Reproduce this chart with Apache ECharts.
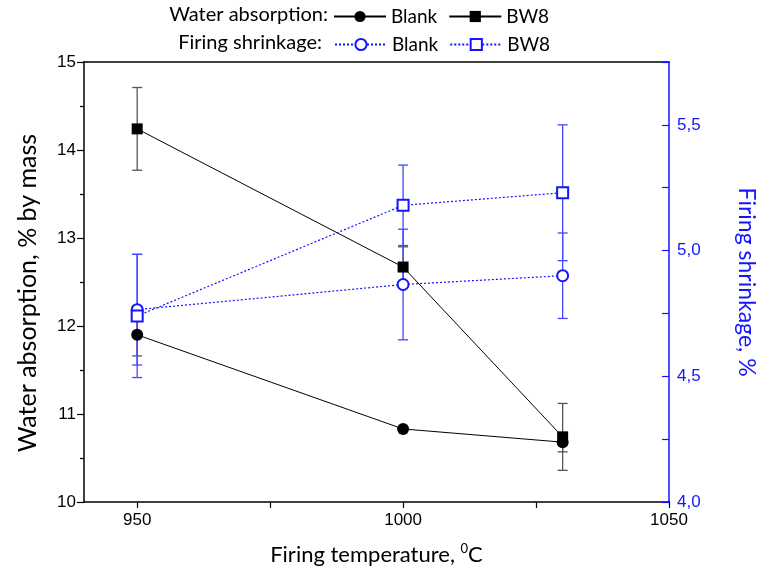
<!DOCTYPE html>
<html>
<head>
<meta charset="utf-8">
<script src="https://cdn.jsdelivr.net/npm/echarts@6/dist/echarts.min.js"></script>
<style>
  html, body { margin: 0; padding: 0; background: #fff; }
  #chart { width: 766px; height: 572px; }
</style>
</head>
<body>
<div id="chart"></div>
<script>
// firing temperatures, deg C
const temps = [950, 1000, 1030];

// water absorption, % by mass (left axis)
const waBlank = [11.90, 10.83, 10.68];
const waBlankErr = [0.24, 0, 0.11];
const waBW8 = [14.24, 12.67, 10.74];
const waBW8Err = [0.47, 0.23, 0.38];

// firing shrinkage, % (right axis)
const fsBlank = [4.765, 4.865, 4.90];
const fsBlankErr = [0.22, 0.22, 0.17];
const fsBW8 = [4.74, 5.18, 5.23];
const fsBW8Err = [0.245, 0.16, 0.27];

const xLabels = [950, 1000, 1050];
const xTicks = [950, 975, 1000, 1025, 1050];
const rightLabels = [4, 4.5, 5, 5.5];

const BLUE = '#1414ff';
const TITLE_FONT = 'Lato';
const TICK_FONT = 'Liberation Sans';

const pts = (vals) => temps.map((t, i) => [t, vals[i]]);
const bars = (vals, errs) => temps.map((t, i) => [t, vals[i] - errs[i], vals[i] + errs[i]]);

const errRender = (color) => (params, api) => {
  const x = api.value(0);
  const hi = api.coord([x, api.value(2)]);
  const lo = api.coord([x, api.value(1)]);
  const hw = 5;
  const style = { stroke: color, lineWidth: 1.3 };
  return {
    type: 'group',
    children: [
      { type: 'line', shape: { x1: hi[0], y1: hi[1], x2: lo[0], y2: lo[1] }, style },
      { type: 'line', shape: { x1: hi[0] - hw, y1: hi[1], x2: hi[0] + hw, y2: hi[1] }, style },
      { type: 'line', shape: { x1: lo[0] - hw, y1: lo[1], x2: lo[0] + hw, y2: lo[1] }, style }
    ]
  };
};

const errSeries = (vals, errs, yIdx, color) => ({
  type: 'custom',
  xAxisIndex: 0,
  yAxisIndex: yIdx,
  z: 1,
  silent: true,
  renderItem: errRender(color),
  encode: { x: 0, y: [1, 2] },
  data: bars(vals, errs)
});

const legendName = (n) => (n.endsWith('blank') ? 'Blank' : 'BW8');

const chart = echarts.init(document.getElementById('chart'));
chart.setOption({
  animation: false,
  backgroundColor: '#fff',
  grid: { left: 84, right: 86, top: 62, bottom: 70 },
  graphic: [
    {
      type: 'text', right: 766 - 328, top: 5,
      style: { text: 'Water absorption:', font: '20px ' + TITLE_FONT, fill: '#000' }
    },
    {
      type: 'text', right: 766 - 322, top: 33,
      style: { text: 'Firing shrinkage:', font: '20px ' + TITLE_FONT, fill: '#000' }
    }
  ],
  legend: [
    {
      left: 333, top: 7, padding: 0,
      data: ['wa_blank', 'wa_bw8'],
      itemWidth: 52, itemHeight: 14, itemGap: 11,
      selectedMode: false,
      formatter: legendName,
      textStyle: { fontFamily: TITLE_FONT, fontSize: 19, color: '#000' }
    },
    {
      left: 334, top: 35, padding: 0,
      data: ['fs_blank', 'fs_bw8'],
      itemWidth: 52, itemHeight: 14, itemGap: 11,
      selectedMode: false,
      formatter: legendName,
      textStyle: { fontFamily: TITLE_FONT, fontSize: 19, color: '#000' }
    }
  ],
  xAxis: [
    {
      type: 'value', position: 'bottom', min: 940, max: 1050,
      axisLine: { lineStyle: { color: '#000', width: 1.5 } },
      axisTick: { customValues: xTicks, length: 6, lineStyle: { color: '#000', width: 1.2 } },
      axisLabel: {
        customValues: xLabels, fontFamily: TICK_FONT, fontSize: 17, color: '#000', margin: 10,
        formatter: (v) => String(v)
      },
      splitLine: { show: false },
      name: 'Firing temperature, {sup|0}C',
      nameLocation: 'middle', nameGap: 40,
      nameTextStyle: {
        fontFamily: TITLE_FONT, fontSize: 22, color: '#000',
        rich: { sup: { fontFamily: TITLE_FONT, fontSize: 13, color: '#000', verticalAlign: 'top', padding: [0, 0, 12, 0] } }
      }
    },
    {
      type: 'value', position: 'top', min: 940, max: 1050,
      axisLine: { lineStyle: { color: '#000', width: 1.5 } },
      axisTick: { show: false }, axisLabel: { show: false }, splitLine: { show: false }
    }
  ],
  yAxis: [
    {
      type: 'value', position: 'left', min: 10, max: 15, interval: 1,
      axisLine: { show: true, lineStyle: { color: '#000', width: 1.5 } },
      axisTick: { show: true, length: 7, lineStyle: { color: '#000', width: 1.2 } },
      minorTick: { show: true, splitNumber: 2, length: 4, lineStyle: { color: '#000', width: 1.2 } },
      axisLabel: { fontFamily: TICK_FONT, fontSize: 17, color: '#000', margin: 8 },
      splitLine: { show: false },
      name: 'Water absorption, % by mass',
      nameLocation: 'middle', nameRotate: 90, nameGap: 44,
      nameTextStyle: { fontFamily: TITLE_FONT, fontSize: 25, color: '#000', padding: [0, 22, 0, 0] }
    },
    {
      type: 'value', position: 'right', min: 4, max: 5.75, interval: 0.25,
      axisLine: { show: true, lineStyle: { color: BLUE, width: 1.5 } },
      axisTick: { show: true, inside: true, length: 7, lineStyle: { color: BLUE, width: 1.2 } },
      axisLabel: {
        customValues: rightLabels,
        fontFamily: TICK_FONT, fontSize: 17, color: BLUE, margin: 8,
        formatter: (v) => v.toFixed(1).replace('.', ',')
      },
      splitLine: { show: false },
      name: 'Firing shrinkage, %',
      nameLocation: 'middle', nameRotate: -90, nameGap: 66,
      nameTextStyle: { fontFamily: TITLE_FONT, fontSize: 23, color: BLUE }
    }
  ],
  series: [
    errSeries(waBlank, waBlankErr, 0, '#555'),
    errSeries(waBW8, waBW8Err, 0, '#555'),
    errSeries(fsBlank, fsBlankErr, 1, '#4646ff'),
    errSeries(fsBW8, fsBW8Err, 1, '#4646ff'),
    {
      name: 'wa_blank', type: 'line', yAxisIndex: 0, z: 3,
      symbol: 'circle', symbolSize: 12,
      lineStyle: { color: '#000', width: 1 },
      itemStyle: { color: '#000' },
      data: pts(waBlank)
    },
    {
      name: 'wa_bw8', type: 'line', yAxisIndex: 0, z: 3,
      symbol: 'rect', symbolSize: 11,
      lineStyle: { color: '#000', width: 1 },
      itemStyle: { color: '#000' },
      data: pts(waBW8)
    },
    {
      name: 'fs_blank', type: 'line', yAxisIndex: 1, z: 3,
      symbol: 'emptyCircle', symbolSize: 11,
      lineStyle: { color: BLUE, width: 1.2, type: [2, 2] },
      itemStyle: { color: BLUE, borderWidth: 1.5 },
      data: pts(fsBlank)
    },
    {
      name: 'fs_bw8', type: 'line', yAxisIndex: 1, z: 3,
      symbol: 'emptyRect', symbolSize: 11,
      lineStyle: { color: BLUE, width: 1.2, type: [2, 2] },
      itemStyle: { color: BLUE, borderWidth: 1.5 },
      data: pts(fsBW8)
    }
  ]
});
</script>
</body>
</html>
